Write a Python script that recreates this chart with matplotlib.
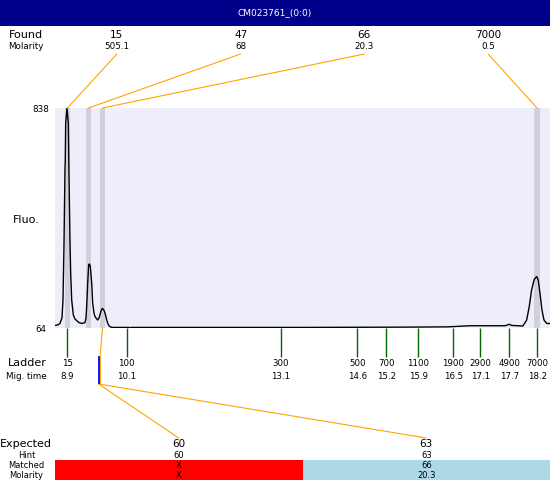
import matplotlib
matplotlib.use('Agg')
import matplotlib.pyplot as plt
from matplotlib.patches import ConnectionPatch, Rectangle
from matplotlib.transforms import blended_transform_factory

plt.rcParams['font.family'] = ['DejaVu Sans']

title = 'CM023761_(0:0)'

# found peaks (size, molarity, migration time)
found_size = [15, 47, 66, 7000]
found_molarity = ['505.1', '68', '20.3', '0.5']
found_time = [8.91, 9.325, 9.602, 18.2]

# ladder
ladder_size = [15, 100, 300, 500, 700, 1100, 1900, 2900, 4900, 7000]
ladder_time = [8.906, 10.081, 13.128, 14.644, 15.218, 15.855, 16.543, 17.078, 17.651, 18.206]
ladder_mig = ['8.9', '10.1', '13.1', '14.6', '15.2', '15.9', '16.5', '17.1', '17.7', '18.2']

# electropherogram trace
trace_time = [8.663, 8.722, 8.761, 8.801, 8.821, 8.841, 8.860, 8.866, 8.874, 8.900,
              8.926, 8.936, 8.959, 8.973, 8.993, 9.025, 9.058, 9.092, 9.137, 9.191,
              9.256, 9.276, 9.290, 9.310, 9.329, 9.345, 9.361, 9.389, 9.408, 9.434,
              9.454, 9.507, 9.533, 9.553, 9.573, 9.598, 9.622, 9.638, 9.662, 9.686,
              9.711, 9.737, 9.771, 9.811, 10.127, 10.147, 10.166, 11.5, 13.5, 15.5,
              16.44, 16.87, 17.57, 17.65, 17.70, 17.82, 17.92, 17.995, 18.046, 18.093,
              18.145, 18.193, 18.224, 18.259, 18.298, 18.338, 18.392, 18.457]
trace_fluo = [73, 75, 80, 99, 162, 356, 620, 650, 785, 838,
              785, 650, 374, 258, 163, 110, 96, 90, 83, 80,
              83, 99, 139, 222, 287, 289, 282, 222, 152, 117,
              104, 92, 99, 110, 124, 133, 129, 124, 110, 92,
              78, 71, 67, 66, 66, 64, 66, 66, 66, 67,
              68, 72, 72, 77, 73, 72, 71, 92, 139, 198,
              235, 245, 233, 186, 127, 92, 80, 80]

# expected fragments
expected_size = [60, 63]
expected_hint = ['60', '63']
matched_size = ['X', '66']
matched_molarity = ['X', '20.3']
matched_ok = [False, True]
matched_peak = 2
expected_time = 9.525

fluo_min, fluo_max = 64, 838
t_min, t_max = 8.663, 18.457

W, H = 550, 480
fig = plt.figure(figsize=(W / 100, H / 100), dpi=100)

ax = fig.add_axes([55 / W, 1 - 328 / H, 495 / W, 220 / H])
ax.set_xlim(t_min, t_max)
ax.set_ylim(fluo_min, fluo_max)
ax.set_facecolor('#EEEEFA')
for s in ax.spines.values():
    s.set_visible(False)
ax.set_yticks([fluo_min, fluo_max])
ax.set_yticklabels([str(fluo_min), str(fluo_max)], fontsize=6.3)
ax.tick_params(axis='y', length=0, pad=10)
for lab in ax.get_yticklabels():
    lab.set_ha('center')
ax.set_xticks(ladder_time)
ax.set_xticklabels([])
ax.tick_params(axis='x', length=21, width=1.0, color='#006400', direction='out')

for t in found_time:
    ax.axvspan(t - 0.05, t + 0.05, color='#D1D1DE', lw=0)
ax.plot(trace_time, trace_fluo, color='black', lw=1.0)

# overlay in pixel coordinates for the text rows
lay = fig.add_axes([0, 0, 1, 1], zorder=3)
lay.set_xlim(0, W)
lay.set_ylim(H, 0)
lay.axis('off')
trans = blended_transform_factory(ax.transData, lay.transData)

lay.add_patch(Rectangle((0, 0), W, 26, color='#00008B', lw=0))
lay.text(W / 2, 13, title, color='white', fontsize=6.5, ha='center', va='center')

lay.text(26, 34.5, 'Found', fontsize=8, ha='center', va='center')
lay.text(26, 46.7, 'Molarity', fontsize=6.3, ha='center', va='center')
col_w = 495 / len(found_size)
for i in range(len(found_size)):
    cx = 55 + (i + 0.5) * col_w
    lay.text(cx, 34.5, str(found_size[i]), fontsize=7.5, ha='center', va='center')
    lay.text(cx, 46.7, found_molarity[i], fontsize=6.3, ha='center', va='center')
    con = ConnectionPatch(xyA=(cx, 54), coordsA=lay.transData,
                          xyB=(found_time[i], fluo_max), coordsB=ax.transData,
                          color='orange', lw=0.8)
    fig.add_artist(con)

lay.text(26, 220, 'Fluo.', fontsize=8, ha='center', va='center')

lay.text(27, 363.3, 'Ladder', fontsize=8, ha='center', va='center')
lay.text(26, 376.7, 'Mig. time', fontsize=6.3, ha='center', va='center')
for i in range(len(ladder_size)):
    lay.text(ladder_time[i], 363.3, str(ladder_size[i]), transform=trans,
             fontsize=6.2, ha='center', va='center')
    lay.text(ladder_time[i], 376.7, ladder_mig[i], transform=trans,
             fontsize=6.2, ha='center', va='center')

# matched peak -> expected marker
con = ConnectionPatch(xyA=(found_time[matched_peak], fluo_min), coordsA=ax.transData,
                      xyB=(expected_time + 0.03, 357), coordsB=trans,
                      color='orange', lw=0.8)
fig.add_artist(con)
lay.plot([expected_time + 0.03] * 2, [357, 383], transform=trans, color='orange', lw=0.8)
lay.plot([expected_time] * 2, [357, 383], transform=trans, color='blue', lw=1.3)

exp_w = 495 / len(expected_size)
for i in range(len(expected_size)):
    cx = 55 + (i + 0.5) * exp_w
    con = ConnectionPatch(xyA=(expected_time, 384), coordsA=trans,
                          xyB=(cx, 438), coordsB=lay.transData,
                          color='orange', lw=0.8)
    fig.add_artist(con)
    lay.add_patch(Rectangle((55 + i * exp_w, 460), exp_w, 20,
                            color='lightblue' if matched_ok[i] else 'red', lw=0))
    lay.text(cx, 444, str(expected_size[i]), fontsize=7.5, ha='center', va='center')
    lay.text(cx, 455.3, expected_hint[i], fontsize=6, ha='center', va='center')
    lay.text(cx, 465.3, matched_size[i], fontsize=6, ha='center', va='center')
    lay.text(cx, 475.3, matched_molarity[i], fontsize=6, ha='center', va='center')

lay.text(26, 444, 'Expected', fontsize=8, ha='center', va='center')
lay.text(27, 455.3, 'Hint', fontsize=6, ha='center', va='center')
lay.text(26, 465.3, 'Matched', fontsize=6, ha='center', va='center')
lay.text(26, 475.3, 'Molarity', fontsize=6, ha='center', va='center')

fig.savefig('out.png', dpi=100)
